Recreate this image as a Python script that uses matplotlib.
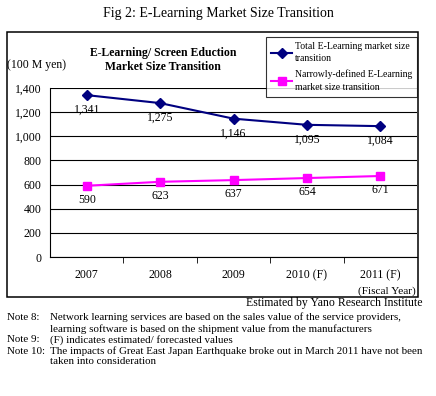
import matplotlib.pyplot as plt
from matplotlib.patches import Rectangle

years = ['2007', '2008', '2009', '2010 (F)', '2011 (F)']
total = [1341, 1275, 1146, 1095, 1084]
narrow = [590, 623, 637, 654, 671]

plt.rcParams['font.family'] = ['Liberation Serif', 'DejaVu Serif']

fig = plt.figure(figsize=(4.36, 3.96), dpi=100)
W, H = 436.0, 396.0

fig.text(218 / W, 1 - 14 / H, 'Fig 2: E-Learning Market Size Transition',
         ha='center', va='center', fontsize=10)

# outer chart frame
fig.patches.append(Rectangle((7 / W, 1 - 297 / H), 411 / W, 265 / H,
                             transform=fig.transFigure, fill=False,
                             edgecolor='black', linewidth=1.1))

ax = fig.add_axes([50 / W, 1 - 257 / H, 367 / W, 169 / H])
x = list(range(len(years)))
ax.plot(x, total, color='#000080', marker='D', markersize=5.5, linewidth=1.5,
        label='Total E-Learning market size\ntransition')
ax.plot(x, narrow, color='#FF00FF', marker='s', markersize=5.5, linewidth=1.5,
        label='Narrowly-defined E-Learning\nmarket size transition')

for i in x:
    ax.annotate(f'{total[i]:,}', (i, total[i]), xytext=(0, -10.5),
                textcoords='offset points', ha='center', va='center', fontsize=8.5)
    ax.annotate(f'{narrow[i]:,}', (i, narrow[i]), xytext=(0, -10),
                textcoords='offset points', ha='center', va='center', fontsize=8.5)

ax.set_xlim(-0.5, 4.5)
ax.set_ylim(0, 1400)
ax.set_yticks(range(0, 1401, 200))
ax.set_yticklabels([f'{v:,}' for v in range(0, 1401, 200)], fontsize=8.5)
ax.yaxis.grid(True, color='black', linewidth=0.8)
ax.set_axisbelow(True)
ax.tick_params(axis='y', length=0, pad=6)
ax.set_xticks(x)
ax.set_xticklabels(years, fontsize=8.5)
ax.set_xticks([0.5, 1.5, 2.5, 3.5], minor=True)
ax.tick_params(axis='x', which='major', length=0, pad=9)
ax.tick_params(axis='x', which='minor', length=4, direction='out')
for s in ['top', 'right']:
    ax.spines[s].set_visible(False)
ax.spines['left'].set_linewidth(0.8)
ax.spines['bottom'].set_linewidth(0.8)

fig.text(163 / W, 1 - 60 / H, 'E-Learning/ Screen Eduction\nMarket Size Transition',
         ha='center', va='center', fontsize=8.5, fontweight='bold', linespacing=1.3)
fig.text(7 / W, 1 - 65 / H, '(100 M yen)', ha='left', va='center', fontsize=8.5)
fig.text(416 / W, 1 - 291 / H, '(Fiscal Year)', ha='right', va='center', fontsize=8.2)

leg = fig.legend(loc='upper left', bbox_to_anchor=(266 / W, 1 - 37 / H),
                 fontsize=7, frameon=True, fancybox=False, edgecolor='black',
                 handlelength=2.2, handletextpad=0.3, borderpad=0.5,
                 labelspacing=0.65, borderaxespad=0)
leg.get_frame().set_linewidth(0.8)
for t in leg.get_texts():
    t.set_linespacing(1.5)

fig.text(422 / W, 1 - 303 / H, 'Estimated by Yano Research Institute',
         ha='right', va='center', fontsize=8.5)
notes = [
    (317, 'Note 8:', 'Network learning services are based on the sales value of the service providers,'),
    (329, '', 'learning software is based on the shipment value from the manufacturers'),
    (340, 'Note 9:', '(F) indicates estimated/ forecasted values'),
    (351, 'Note 10:', 'The impacts of Great East Japan Earthquake broke out in March 2011 have not been'),
    (362, '', 'taken into consideration'),
]
for y, lab, txt in notes:
    if lab:
        fig.text(7 / W, 1 - y / H, lab, ha='left', va='center', fontsize=7.9)
    fig.text(50 / W, 1 - y / H, txt, ha='left', va='center', fontsize=7.9)

fig.savefig('out.png', dpi=100)
